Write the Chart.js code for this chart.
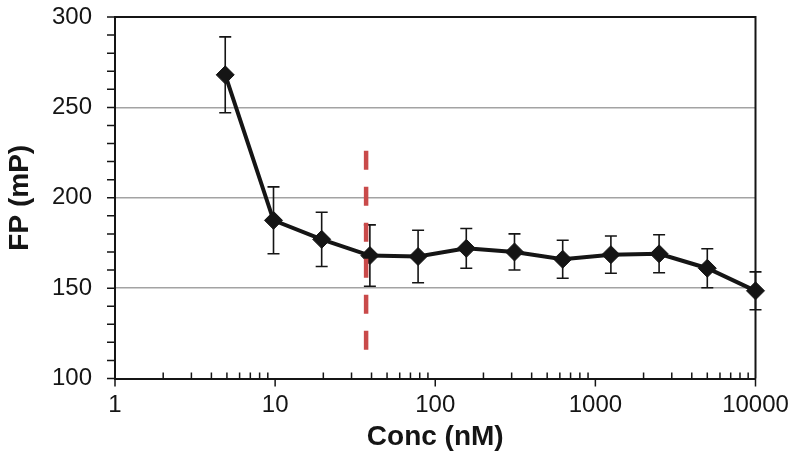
<!DOCTYPE html>
<html>
<head>
<meta charset="utf-8">
<script src="https://cdn.jsdelivr.net/npm/chart.js@4.4.0/dist/chart.umd.min.js"></script>
<style>
  html, body { margin: 0; padding: 0; background: #fff; }
  #wrap { width: 800px; height: 461px; }
</style>
</head>
<body>
<div id="wrap"><canvas id="chartFP"></canvas></div>
<script>
// datos
const conc = [4.88, 9.77, 19.53, 39.06, 78.13, 156.25, 312.5, 625, 1250, 2500, 5000, 10000];
const fp = [268, 187.5, 177, 168, 167.5, 172, 170, 166, 168.5, 169, 161, 148.5];
const fpErr = [21, 18.5, 15, 17, 14.5, 11, 10, 10.5, 10.3, 10.5, 10.8, 10.5];

// línea discontinua roja (concentración marcada)
const marcaX = [37, 37];
const marcaY = [226, 115];

const xTickVals = [1, 10, 100, 1000, 10000];
const yGridVals = [150, 200, 250];

const negro = '#151515';
const fuente = '"Liberation Sans", Arial, Helvetica, sans-serif';

// barras de error + marcas de los ejes + marco
const pluginExtras = {
    id: 'extras',
    beforeDatasetsDraw(chart) {
        const ctx = chart.ctx;
        const x = chart.scales.x, y = chart.scales.y;
        ctx.save();
        ctx.strokeStyle = negro;
        ctx.lineWidth = 1.6;
        conc.forEach((c, i) => {
            const px = x.getPixelForValue(c);
            const top = y.getPixelForValue(fp[i] + fpErr[i]);
            const bot = y.getPixelForValue(fp[i] - fpErr[i]);
            ctx.beginPath();
            ctx.moveTo(px, top); ctx.lineTo(px, bot);
            ctx.moveTo(px - 6, top); ctx.lineTo(px + 6, top);
            ctx.moveTo(px - 6, bot); ctx.lineTo(px + 6, bot);
            ctx.stroke();
        });
        ctx.restore();
    },
    afterDraw(chart) {
        const ctx = chart.ctx;
        const x = chart.scales.x, y = chart.scales.y;
        const a = chart.chartArea;
        ctx.save();
        ctx.strokeStyle = negro;
        ctx.lineWidth = 1.5;
        ctx.beginPath();
        // marcas del eje y cada 10
        for (let v = 100; v <= 300; v += 10) {
            const py = y.getPixelForValue(v);
            ctx.moveTo(a.left - 8, py); ctx.lineTo(a.left, py);
        }
        // marcas del eje x
        for (let d = 1; d <= 10000; d *= 10) {
            const px = x.getPixelForValue(d);
            ctx.moveTo(px, a.bottom); ctx.lineTo(px, a.bottom + 8);
            if (d < 10000) {
                for (let k = 2; k <= 9; k++) {
                    const pm = x.getPixelForValue(d * k);
                    ctx.moveTo(pm, a.bottom - 6); ctx.lineTo(pm, a.bottom);
                }
            }
        }
        ctx.stroke();
        // marco superior y derecho
        ctx.lineWidth = 2;
        ctx.beginPath();
        ctx.moveTo(a.left, a.top); ctx.lineTo(a.right, a.top); ctx.lineTo(a.right, a.bottom);
        ctx.stroke();
        ctx.restore();
    }
};

document.addEventListener('DOMContentLoaded', function() {
    const ctx = document.getElementById('chartFP').getContext('2d');

    new Chart(ctx, {
        type: 'line',
        data: {
            datasets: [
                {
                    label: 'marca',
                    data: marcaX.map((v, i) => ({ x: v, y: marcaY[i] })),
                    borderColor: '#c94a4a',
                    borderWidth: 4.5,
                    borderDash: [19, 17],
                    borderCapStyle: 'butt',
                    pointRadius: 0,
                    fill: false
                },
                {
                    label: 'FP',
                    data: conc.map((c, i) => ({ x: c, y: fp[i] })),
                    borderColor: negro,
                    borderWidth: 4,
                    tension: 0,
                    pointStyle: 'rectRot',
                    pointRadius: 9,
                    pointBackgroundColor: negro,
                    pointBorderColor: negro,
                    pointBorderWidth: 1,
                    clip: false,
                    fill: false
                }
            ]
        },
        options: {
            responsive: true,
            maintainAspectRatio: false,
            animation: false,
            layout: {
                padding: { left: 0, right: 44.5, top: 17, bottom: 0 }
            },
            plugins: {
                legend: { display: false },
                tooltip: { enabled: false }
            },
            scales: {
                x: {
                    type: 'logarithmic',
                    min: 1,
                    max: 10000,
                    afterBuildTicks: function(scale) {
                        scale.ticks = xTickVals.map(v => ({ value: v }));
                    },
                    afterFit: function(scale) {
                        scale.height = 82.5;
                        scale.paddingLeft = 0;
                        scale.paddingRight = 0;
                    },
                    ticks: {
                        autoSkip: false,
                        maxRotation: 0,
                        padding: 12,
                        color: negro,
                        font: { family: fuente, size: 24 },
                        callback: function(value) {
                            return String(value);
                        }
                    },
                    grid: { display: false, drawTicks: false },
                    border: { display: true, color: negro, width: 2 },
                    title: {
                        display: true,
                        text: 'Conc (nM)',
                        color: negro,
                        font: { family: fuente, size: 28, weight: 'bold' },
                        padding: { top: 0, bottom: 7 }
                    }
                },
                y: {
                    min: 100,
                    max: 300,
                    afterFit: function(scale) {
                        scale.width = 115;
                        scale.paddingTop = 0;
                        scale.paddingBottom = 0;
                    },
                    ticks: {
                        stepSize: 50,
                        padding: 23,
                        color: negro,
                        font: { family: fuente, size: 24 }
                    },
                    grid: {
                        drawTicks: false,
                        lineWidth: 1.5,
                        color: function(c) {
                            return yGridVals.includes(c.tick.value) ? '#a3a3a3' : 'rgba(0,0,0,0)';
                        }
                    },
                    border: { display: true, color: negro, width: 2 },
                    title: {
                        display: true,
                        text: 'FP (mP)',
                        color: negro,
                        font: { family: fuente, size: 28, weight: 'bold' },
                        padding: { top: 3, bottom: 0 }
                    }
                }
            }
        },
        plugins: [pluginExtras]
    });
});
</script>
</body>
</html>
